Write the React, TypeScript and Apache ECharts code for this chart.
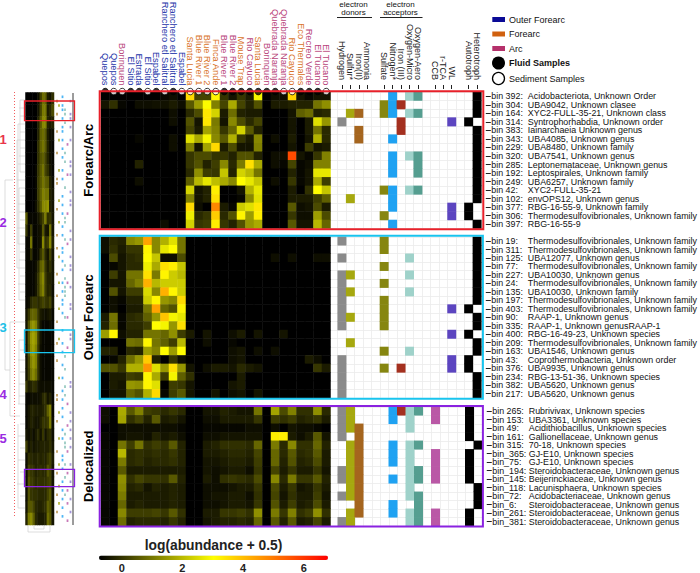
import React, { useEffect, useRef } from "react";
import * as echarts from "echarts";

const FONT = '"Liberation Sans", Arial, sans-serif';

const sampleNames = ["Quepos","Quepos","Borinquen","El Sitio","Estrada","El Sitio","Espabel","Ranchero etl Salitral","Ranchero etl Salitral","Espabel","Santa Lucia","Blue River 1","Blue River 2","Finca Ande","Blue River 1","Blue River 2","Mouse Trap","Rio Cayuco","Santa Lucia","Borinquen","Quebrada Naranja","Quebrada Naranja","Rio Cayuco","Eco Thermales","Recreo Verde","El Tucano","El Tucano"];
const BLUE = "#2233a8", ORANGE = "#d9742a", PINK = "#b8437a";
const sampleColors = [BLUE,BLUE,PINK,BLUE,BLUE,BLUE,BLUE,BLUE,BLUE,BLUE,ORANGE,ORANGE,ORANGE,ORANGE,PINK,PINK,ORANGE,PINK,ORANGE,PINK,PINK,PINK,ORANGE,ORANGE,PINK,PINK,PINK];
const sampleFluid = [1,0,0,1,1,0,1,0,1,0,0,0,0,0,1,1,1,1,1,1,1,0,0,1,1,1,0];

const heatForearc = [
[-.7,-.7,-.7,-.7,-.7,-.7,-.7,-.6,-.5,-.7,3.6,.3,.3,3.2,.05,-.4,.1,-.3,2.9,-.7,-.5,-.5,3.7,-.4,-.6,-.4,-.4],
[-.4,0,-.6,-.7,-.5,-.5,-.45,-.45,-.3,-.5,.6,1.6,3,1.2,.3,1.8,.3,-.2,.5,-.7,-.3,-.3,-.2,-.2,-.2,1,1.4],
[-.7,-.7,-.7,-.7,-.7,-.7,-.7,-.7,-.5,-.7,-.1,.4,3.4,2.4,-.3,.9,-.2,-.3,-.3,-.7,-.7,-.7,-.4,.7,.9,-.2,-.1],
[-.7,-.7,-.7,-.7,-.7,-.7,-.7,-.7,-.5,-.7,.5,-.4,3.4,1.1,-.4,1.3,.4,-.1,.3,-.7,-.7,-.7,-.4,-.7,-.3,2.6,1.5],
[-.7,-.7,-.7,-.7,-.7,-.7,-.7,-.7,-.7,-.7,.3,-.3,1.7,1.2,.1,.8,2.4,.6,-.2,-.7,-.7,-.7,-.4,-.7,-.3,1,-.1],
[-.7,-.7,-.7,-.7,-.6,-.7,-.7,-.7,-.5,-.7,2.6,1.8,2.9,1.3,.6,1.9,.1,-.3,1.3,-.7,-.5,-.7,-.3,-.7,-.4,1.9,-.1],
[-.7,-.7,-.7,-.7,-.7,-.7,-.7,-.7,-.5,-.7,1.2,-.4,1.7,3.6,-.3,.4,-.4,-.4,1.2,-.7,-.7,-.7,-.4,-.7,.2,-.4,-.3],
[-.7,-.7,-.7,-.7,-.7,-.7,-.7,-.7,-.7,-.7,.1,.4,.4,.05,.1,-.2,.5,.5,-.2,-.7,-.5,-.5,5.7,-.4,-.6,.1,1.2],
[-.7,-.7,-.7,-.7,-.2,-.7,-.7,-.7,-.7,-.7,.1,.5,-.2,.2,1.3,-.1,1.1,3.5,1.8,-.7,-.5,-.6,.3,-.6,-.5,1.2,1.2],
[-.7,-.7,-.7,-.7,-.7,-.7,-.7,-.7,-.7,-.7,-.1,1.4,.2,.1,2.2,-.2,2.4,2,1,-.7,-.7,-.7,-.2,-.6,-.4,2.7,2.7],
[-.7,-.7,-.7,-.7,-.5,-.7,-.7,-.7,-.7,-.7,.7,2,2.7,2.1,1.8,1.3,3.1,2.7,2.2,-.7,-.5,-.7,.1,-.6,-.4,1.8,.2],
[-.7,-.7,-.7,-.7,-.7,-.7,-.7,-.7,-.7,-.7,2.4,-.4,-.2,3.3,-.7,-.7,-.4,1.9,2.7,-.7,-.7,-.7,-.3,-.7,0,3.1,2.2],
[-.7,-.7,-.7,-.7,-.7,-.7,-.7,-.7,-.7,-.7,1.2,-.4,-.2,3.5,-.7,-.7,-.6,1.3,2.6,-.7,-.7,-.7,-.3,-.3,-.3,.2,.7],
[-.7,-.7,-.7,-.7,-.7,-.7,-.7,-.7,-.7,-.7,3.6,-.5,-.7,4.8,-.3,-.6,2.3,2.6,3.4,-.7,-.7,-.7,.6,-.5,-.4,.4,-.3],
[-.7,-.7,-.7,-.7,-.7,-.7,-.7,-.7,-.7,-.7,2.8,-.1,.1,3.8,-.1,.5,3.2,1.6,3.3,-.7,-.7,-.7,.1,-.5,-.5,1.6,.4],
[-.7,-.7,-.7,-.7,-.7,-.7,-.7,-.5,-.7,-.7,2.4,.1,.2,3.3,.1,-.2,.5,1.5,1.8,-.7,-.7,-.7,.6,-.4,-.4,2,.8],
];

const heatOuter = [
[-.5,-.1,-.2,1.3,1.5,4.4,1.3,1.9,2.6,1,-.7,-.7,-.7,-.7,-.7,-.7,-.7,-.7,-.7,-.7,-.7,-.7,-.7,-.7,-.7,-.7,-.7],
[-.5,0,-.3,.1,.1,3.2,1.3,2.7,3.1,1,-.7,-.7,-.7,-.7,-.7,-.7,-.7,-.7,-.7,-.7,-.7,-.7,-.7,-.7,-.7,-.7,-.7],
[-.7,.4,-.4,-.1,0,3.1,2.2,-.5,-.5,.4,-.7,-.7,-.7,-.7,-.7,-.7,-.7,-.7,-.7,-.7,-.5,-.7,-.5,-.7,-.7,-.5,-.5],
[-.7,-.6,-.4,-.1,-.1,2.8,1.8,3.5,3.3,2.2,-.7,-.7,-.7,-.7,-.7,-.7,-.7,-.7,-.7,-.7,-.7,-.7,-.7,-.7,-.7,-.7,-.7],
[-.7,.2,-.4,1,1,3.5,1.1,3.2,2.3,2,-.7,-.7,-.7,-.7,-.7,-.7,-.7,-.7,-.7,-.7,-.7,-.7,-.7,-.7,-.7,-.7,-.7],
[-.7,-.4,-.4,.8,1.2,4.2,2,2.3,2.3,2.3,-.7,-.7,-.7,-.7,-.7,-.7,-.7,-.7,-.7,-.7,-.7,-.7,-.7,-.7,-.7,-.7,-.7],
[-.7,.5,-.4,.2,.2,2.5,1.3,4.2,3.2,2.3,-.7,-.7,-.7,-.7,-.7,-.7,-.7,-.7,-.7,-.7,-.7,-.7,-.7,-.7,-.7,-.7,-.7],
[-.7,-.5,-.6,-.2,-.2,2.3,3.2,1.5,1.3,3.6,-.7,-.7,-.7,-.7,-.7,-.7,-.7,-.7,-.7,-.7,-.7,-.7,-.7,-.7,-.7,-.7,-.7],
[-.7,-.5,-.7,-.3,-.3,1,4.4,.8,.5,3.2,-.7,-.7,-.7,-.7,-.7,-.7,-.7,-.7,-.7,-.7,-.7,-.7,-.7,-.7,-.7,-.7,-.7],
[-.3,1,-.6,-.1,0,.7,1.5,3.9,2.9,2.7,-.7,-.7,-.7,-.7,-.7,-.7,-.7,-.7,-.7,-.7,-.7,-.7,-.7,-.7,-.7,-.7,-.7],
[-.2,.9,-.6,-.1,-.1,.2,3.1,2.9,1.5,3.5,-.7,-.7,-.7,-.7,-.7,-.7,-.7,-.7,-.7,-.7,-.7,-.7,-.7,-.7,-.7,-.7,-.7],
[1.6,3.2,-.5,-.2,-.2,1,1,.8,1.4,.2,-.3,-.7,-.4,-.7,-.7,-.5,-.3,-.7,-.4,-.7,-.7,-.4,-.7,-.7,-.7,-.7,-.7],
[-.7,-.7,-.7,1,.9,3.2,1,.7,.2,2,-.7,-.7,-.5,-.7,-.7,-.6,-.7,-.7,-.7,-.7,-.7,-.7,-.7,-.7,-.7,-.7,-.7],
[-.2,-.2,-.7,-.1,-.2,1.6,1.2,3.1,1.6,3.1,-.7,-.7,-.7,-.7,-.7,-.5,-.4,-.7,-.5,-.7,-.5,-.7,-.7,-.7,-.7,-.7,-.7],
[-.7,-.6,-.2,.9,1.5,3.8,-.2,-.7,.1,-.5,-.7,-.7,-.7,-.7,-.7,-.5,-.4,-.7,-.7,-.7,-.7,-.7,-.7,-.7,-.3,-.5,-.7],
[.5,.5,.1,1.9,1.9,4.6,2.6,1.5,3.5,1.5,-.4,-.7,-.5,-.3,-.3,-.4,-.1,-.3,-.4,-.7,-.7,-.7,-.7,-.7,-.7,.1,-.3],
[-.7,-.3,-.3,.2,.1,3.2,1.8,.2,2.9,.7,0,-.7,-.7,-.7,-.7,-.7,-.3,-.7,-.7,-.7,-.7,-.7,-.7,-.7,-.7,-.7,-.7],
[-.7,-.3,-.4,1.5,1.4,3.2,2.6,-.7,.2,.1,-.4,-.7,-.7,-.7,-.7,-.4,-.3,-.7,-.7,-.7,-.7,-.7,-.7,-.7,-.7,-.7,-.7],
[-.7,-.4,-.4,.8,.5,1.9,3.6,-.6,.2,.6,-.4,-.7,-.7,-.4,-.7,-.5,-.4,-.7,-.4,-.7,-.7,-.7,-.7,-.7,-.7,-.7,-.7],
];

const heatDelocalized = [
[-.5,-.7,1.8,.6,1.2,.2,.1,-.1,.1,-.1,-.7,-.7,-.4,-.4,-.2,-.3,-.4,-.4,1,-.7,1.7,.4,1.2,0,0,1.4,-.1],
[-.5,-.7,1.7,0,.3,-.2,.6,-.3,-.2,-.4,-.7,-.7,-.5,-.5,-.3,-.3,-.3,-.3,.1,-.7,.2,0,.2,-.2,-.1,.1,-.3],
[-.7,-.7,-.5,-.5,-.5,-.5,-.5,-.5,-.5,-.6,-.7,-.7,-.6,-.6,-.6,-.6,-.6,-.5,-.5,-.7,-.5,-.7,-.4,-.5,-.5,-.6,-.7],
[-.6,-.7,-.5,-.4,-.4,-.5,-.2,-.4,-.3,-.5,-.7,-.7,-.5,-.5,-.4,-.4,-.4,-.4,-.4,-.7,3.3,3.3,-.3,-.5,-.3,.6,-.4],
[-.6,-.7,1,.2,1,0,.2,0,.6,-.2,-.7,-.7,-.3,-.2,0,0,0,-.1,.8,-.7,1.1,-.1,1.3,0,0,.8,-.2],
[-.6,-.7,2,-.1,0,-.1,0,-.1,.1,-.2,-.7,-.7,-.3,-.3,-.2,-.1,-.1,-.2,.3,-.7,.8,-.1,.6,-.1,0,.6,-.3],
[-.6,-.7,1.1,-.1,0,-.2,-.1,-.1,0,-.2,-.7,-.7,-.4,-.4,-.3,-.2,-.2,-.3,.2,-.7,.8,-.2,.5,-.2,-.1,.4,-.3],
[-.6,-.7,.6,-.3,-.3,-.3,-.3,-.3,-.3,-.3,-.7,-.7,-.4,-.5,-.4,-.3,-.3,-.5,.1,-.7,.3,-.3,.1,-.3,-.3,.1,-.4],
[-.6,-.7,1.4,0,.3,.1,.1,0,.6,-.2,-.7,-.7,-.3,-.5,0,.1,0,-.1,.4,-.7,1.3,-.1,1.1,.1,.1,.6,-.2],
[-.6,-.7,1.3,-.2,-.1,-.4,-.2,-.3,-.2,-.3,-.7,-.7,-.5,-.5,-.5,-.4,-.3,-.3,.1,-.7,.4,-.3,.1,-.4,-.3,.1,-.3],
[-.6,-.7,1.1,-.3,-.3,-.3,-.3,-.3,-.2,-.3,-.7,-.7,-.5,-.4,-.4,-.3,-.3,-.5,0,-.7,.3,-.4,0,-.3,-.3,.2,-.4],
[-.6,-.7,.8,-.3,-.2,-.3,-.3,-.3,-.2,-.3,-.7,-.7,-.5,-.5,-.4,-.3,-.3,-.4,.1,-.7,.5,-.3,.2,-.3,-.2,.4,-.3],
[-.6,-.7,1.3,.2,.2,.2,.3,.1,.6,0,-.7,-.7,-.3,-.3,.1,.1,.2,0,1.4,-.7,1.1,.1,1.2,0,.2,1.4,0],
[-.6,-.7,.9,-.2,-.1,-.1,-.1,-.2,.1,-.2,-.7,-.7,-.4,-.3,-.2,-.2,-.1,-.2,.8,-.7,.6,-.2,.6,-.3,-.2,.3,-.3],
];

const binsForearc = ["bin 392:|Acidobacteriota, Unknown Order","bin 304:|UBA9042, Unknown clasee","bin 164:|XYC2-FULL-35-21, Unknown class","bin 314:|Syntrophorhabdia, Unknown order","bin 383:|Iainarchaeia Unknown genus","bin 343:|UBA4085, Unknown genus","bin 229:|UBA8480, Unknown family","bin 320:|UBA7541, Unknown genus","bin 285:|Leptonemataceae, Unknown genus","bin 192:|Leptospirales, Unknown family","bin 249:|UBA6257, Unknown family","bin 42:|XYC2-FULL-35-21","bin 102:|envOPS12, Unknown genus","bin 377:|RBG-16-55-9, Unknown family","bin 306:|Thermodesulfovibrionales, Unknown family","bin 397:|RBG-16-55-9"];
const binsOuter = ["bin 19:|Thermodesulfovibrionales, Unknown family","bin 311:|Thermodesulfovibrionales, Unknown family","bin 125:|UBA12077, Unknown genus","bin 77:|Thermodesulfovibrionales, Unknown family","bin 227:|UBA10030, Unknown genus","bin 24:|Thermodesulfovibrionales, Unknown family","bin 135:|UBA10030, Unknown family","bin 197:|Thermodesulfovibrionales, Unknown family","bin 403:|Thermodesulfovibrionales, Unknown family","bin 90:|RAAP-1, Unknown genus","bin 335:|RAAP-1, Unknown genusRAAP-1","bin 400:|RBG-16-49-23, Unknown species","bin 209:|Thermodesulfovibrionales, Unknown family","bin 163:|UBA1546, Unknown genus","bin 43:|Coprothermobacteria, Unknown order","bin 376:|UBA9935, Unknown genus","bin 234:|RBG-13-51-36, Unknown species","bin 382:|UBA5620, Unknown genus","bin 217:|UBA5620, Unknown genus"];
const binsDelocalized = ["bin 265:|Rubrivivax, Unknown species","bin 153:|UBA3361, Unknown species","bin 49:|Acidithiobacillus, Unknown species","bin 161:|Gallionellaceae, Unknown genus","bin 315:|70-18, Unknown species","bin_365:|GJ-E10, Unknown species","bin_75:|GJ-E10, Unknown species","bin_194:|Steroidobacteraceae, Unknown genus","bin_145:|Beijerinckiaceae, Unknown genus","bin_118:|Lacunisphaera, Unknown species","bin_72:|Acidobacteriaceae, Unknown genus","bin_6:|Steroidobacteraceae, Unknown genus","bin_261:|Steroidobacteraceae, Unknown genus","bin_381:|Steroidobacteraceae, Unknown genus"];

const traitCols = ["","Hydrogen","Sulfur*","Iron(II)","Ammonia","","Sulfate","Nitrogen*","Iron (III)","Oxygen-Micro","Oxygen-Aero","","CCB","r-TCA","WL","","Autotroph","Heterotroph"];
const traitColors = ["#fff","#8a8a8a","#a6a80f","#a5651e","#888","#fff","#868610","#1fa2f2","#a4301f","#9fd2ca","#559e90","#fff","#ba58a6","#888","#5c45c0","#fff","#000","#000"];

const H="Hydrogen",S="Sulfur*",F2="Iron(II)",SO="Sulfate",N="Nitrogen*",F3="Iron (III)",OM="Oxygen-Micro",OA="Oxygen-Aero",CCB="CCB",WL="WL",AU="Autotroph",HE="Heterotroph";
const traitsForearc = [
[N,OM,OA,HE],[SO,N,F3,HE],[S,F2,SO,N,OM,OA,HE],[H,F3,WL,AU],[F2,F3,HE],[F2,N,HE],[HE],[N,OM,OA,HE],[N,OA,HE],[N,OA,HE],[HE],[SO,N,OM,OA,HE],[S,N,HE],[N,WL,AU],[SO,WL,AU],[N,HE],
];
const traitsOuter = [
[H,SO,HE],[SO,HE],[H,OM,HE],[SO,HE],[H,S,OM,HE],[H,SO,HE],[H,S,OM,HE],[H,SO,HE],[H,SO,WL,AU],[H,S,SO,HE],[H,SO,HE],[WL,AU],[S,HE],[SO,OM,HE],[H,WL,AU],[H,SO,F3,WL,AU],[H,HE],[H,HE],[H,HE],
];
const traitsDelocalized = [
[H,S,N,F3,OM,OA,CCB,AU],[H,S,N,OM,CCB,AU],[H,S,F2,OM,AU],[H,F2,AU],[S,F2,N,OM,OA,HE],[S,F2,N,OM,CCB,AU],[S,F2,N,OM,CCB,AU],[H,S,F2,OM,OA,CCB,AU],[H,S,F2,N,OM,OA,CCB,AU],[S,F2,OM,HE],[H,S,F2,OM,OA,HE],[F2,N,OA,HE],[S,F2,N,OM,OA,CCB,AU],[H,S,OM,OA,CCB,AU],
];

// coarse reading of the small overview heatmap on the left
const overview = [
[-.7,-.7,-.7,-.7,-.7,-.5,.2,.9,.7,-.3,-.4,.0],
[-.7,-.7,-.7,-.7,-.7,-.4,.3,1.1,1,-.3,-.1,.4],
[-.7,-.7,-.7,-.7,-.7,-.2,.6,1.3,1.2,-.2,-.3,-.2],
[-.7,-.7,-.7,-.7,-.7,-.2,.7,.9,.6,-.3,-.5,-.5],
[-.7,-.7,-.7,-.7,-.7,0,.7,1,.6,-.2,-.5,-.6],
[-.7,-.7,-.7,-.7,-.7,0,.5,.7,.3,-.2,-.5,-.6],
[-.7,-.7,-.7,-.7,-.6,.1,.6,1,.3,0,-.4,-.6],
[-.7,-.7,-.7,-.7,-.6,.2,.6,1,.7,.6,-.2,-.5],
[-.7,-.7,-.7,-.7,-.6,.2,.7,1.2,1,1,-.2,-.4],
[-.7,-.7,-.7,-.7,-.5,0,.6,1.3,1.3,1.5,-.2,-.4],
[.6,-.6,-.6,-.6,-.6,-.4,-.1,.3,1.1,0,.1,-.4],
[.1,-.6,.2,-.6,-.6,-.5,-.4,.6,-.3,-.4,1,-.4],
[-.6,-.6,1,-.6,-.6,-.5,-.4,1.3,0,.2,1.3,-.2],
[-.6,-.6,0,-.6,-.6,-.5,.1,.6,-.1,-.4,.3,-.4],
[-.6,-.6,-.6,-.6,-.5,-.1,.7,.9,.1,-.3,0,-.4],
[-.6,-.6,-.6,-.6,-.4,.1,.9,1.3,.2,-.2,-.2,-.4],
[-.6,-.6,-.6,-.6,-.4,.1,.8,1.2,.2,-.2,-.1,-.5],
[-.6,-.5,-.1,.1,.1,-.1,.1,.3,.1,0,.3,-.4],
[-.4,.1,.7,.8,.7,.1,-.3,-.4,-.5,-.4,-.3,-.6],
[-.4,.5,1.3,1.5,1.2,.2,-.4,-.6,-.6,-.6,-.5,-.6],
[-.4,.6,1.5,1.7,1.4,.2,-.4,-.6,-.6,-.6,-.6,-.6],
[-.4,.5,1.4,1.6,1.2,.1,-.5,-.6,-.6,-.6,-.6,-.6],
[-.4,.3,1.2,1.5,1.2,0,-.5,-.6,-.6,-.6,-.6,-.6],
[-.4,.2,1,1.3,.9,0,-.5,-.6,-.6,-.6,-.6,-.6],
[.1,-.3,-.2,0,-.1,-.4,-.5,-.5,-.5,-.5,-.5,-.6],
[-.6,-.6,-.5,-.5,-.5,-.5,-.4,-.1,0,-.4,-.2,-.6],
[-.6,-.4,-.2,-.2,-.3,-.3,-.3,-.2,0,.7,1.2,-.6],
[-.6,-.4,-.2,-.3,-.4,-.4,-.2,.1,0,.2,1.1,-.5],
[-.4,-.5,-.3,-.5,-.3,-.1,-.4,.1,-.4,-.1,0,-.5],
[.2,-.4,-.2,-.4,-.3,-.3,-.2,-.2,-.2,-.2,0,-.4],
[-.5,0,-.1,-.2,-.2,-.1,-.2,-.1,-.2,.1,.3,-.3],
[-.5,.3,.1,0,-.2,-.1,0,-.1,-.1,.5,.3,-.4],
[-.5,.5,.2,.1,-.1,0,0,0,0,.2,.3,-.4],
[-.5,.5,.1,0,0,-.1,-.1,-.1,-.1,.3,.6,-.4],
[-.4,.6,.6,.3,-.1,-.2,-.2,-.1,0,.7,.5,-.4],
[-.2,1.1,1.3,.7,-.1,-.3,-.3,-.3,-.2,.9,.6,-.4],
];

// overview trait marks, [position from 0 to 100 down the strip] per column
const miniBrown = [2,5,9,14,20,21,27,33,36,42,47,53,58,62,70,71,76,83,88,93,97];
const miniOlive = [3,11,18,25,30,38,44,50,57,66,74,80,86,91,95];
const miniBlue = [1,3,4,6,8,9,11,13,15,18,20,24,26,28,31,33,36,37,39,41,44,46,48,49,51,55,58,60,63,66,69,71,73,75,78,80,84,85,87,90,92,94,96,98];
const miniTeal = [4,5,7,14,16,22,29,30,34,40,43,45,46,47,52,61,64,68,70,79,81,82,86,89,93];
const miniPink = [12,19,28,35,44,52,59,72,77,83,88,92,95,99];
const miniPurple = [2,5,6,8,11,16,17,19,23,25,26,32,34,38,40,41,45,49,50,56,57,67,68,74,76,78,80,82,86,90,94,97];

// dendrogram segments at left, [x1, y1, x2, y2]
const dendro = [
[5,180,13,180],[5,180,5,370],[5,370,10,370],[10,322,10,416],[10,322,25,322],[10,416,20,416],
[20,100,25,100],[19,108,25,108],[20,116,25,116],[18,124,25,124],[20,132,25,132],[17,140,25,140],[20,148,25,148],[19,156,25,156],[18,164,25,164],[20,172,25,172],[17,180,25,180],[19,188,25,188],[20,196,25,196],[18,204,25,204],[19,212,25,212],[20,220,25,220],[17,228,25,228],[20,236,25,236],[18,244,25,244],[20,252,25,252],[19,260,25,260],[17,268,25,268],[20,276,25,276],[18,284,25,284],[20,292,25,292],[19,300,25,300],[19,340,25,340],[20,350,25,350],[18,360,25,360],[20,372,25,372],[19,384,25,384],[19,396,25,396],[18,404,25,404],[20,424,25,424],[18,436,25,436],[20,448,25,448],[18,460,25,460],[20,472,25,472],[17,484,25,484],[20,496,25,496],[18,508,25,508],
[20,100,20,172],[18,124,18,244],[17,140,17,268],[19,188,19,300],[19,340,19,404],[18,424,18,508],
[28,526,28,532],[28,532,50,532],[50,526,50,532],[34,526,34,529],[34,529,44,529],[44,526,44,529],
];

const HEAT_LEFT = 101, CELL = 8.5, HEAT_W = 27 * CELL, TRAIT_LEFT = 329.25, TRAIT_W = 18 * CELL;
const panels = [
  { title: "Forearc/Arc", top: 92, height: 136.5, heat: heatForearc, bins: binsForearc, traits: traitsForearc },
  { title: "Outer Forearc", top: 236.8, height: 161, heat: heatOuter, bins: binsOuter, traits: traitsOuter },
  { title: "Delocalized", top: 406.8, height: 119, heat: heatDelocalized, bins: binsDelocalized, traits: traitsDelocalized },
];

const frame = (x: number, y: number, w: number, h: number, color: string, lw: number) => ({
  type: "rect", z: 100, silent: true, shape: { x, y, width: w, height: h }, style: { fill: "transparent", stroke: color, lineWidth: lw },
});
const label = (text: string, x: number, y: number, o: any = {}) => ({
  type: "text", z: 100, silent: true, x, y,
  style: { text, fontFamily: FONT, fontSize: 9, fill: "#111", textVerticalAlign: "middle", verticalAlign: "middle", align: "left", ...o },
});

function buildOption() {
  const grid: any[] = [], xAxis: any[] = [], yAxis: any[] = [], series: any[] = [];
  const add = (g: any, x: any, y: any) => {
    grid.push(g);
    const i = grid.length - 1;
    xAxis.push({ gridIndex: i, ...x });
    yAxis.push({ gridIndex: i, ...y });
    return i;
  };
  const hidden = { show: false };

  // sample circles row with sample names
  const c = add({ left: HEAT_LEFT, width: HEAT_W, top: 82, height: 8.5 }, {
    type: "category", data: sampleNames, position: "top",
    axisLine: hidden, axisTick: hidden,
    axisLabel: { interval: 0, rotate: 90, margin: 5, fontFamily: FONT, fontSize: 9.3, color: (_: any, i: number) => sampleColors[i], hideOverlap: false },
  }, { type: "category", data: ["s"], show: false });
  series.push({
    type: "scatter", xAxisIndex: c, yAxisIndex: c, symbolSize: 6.5, silent: true,
    data: sampleFluid.map((f, i) => ({ value: [i, 0], itemStyle: { color: f ? "#000" : "#fff", borderColor: "#000", borderWidth: 1 } })),
  });

  const heatIdx: number[] = [];
  panels.forEach((p) => {
    const h = add({ left: HEAT_LEFT, width: HEAT_W, top: p.top, height: p.height },
      { type: "category", data: sampleNames, show: false },
      { type: "category", inverse: true, data: p.bins, axisLine: hidden, axisTick: hidden, axisLabel: hidden,
        name: p.title, nameLocation: "middle", nameRotate: 90, nameGap: 6.5,
        nameTextStyle: { fontFamily: FONT, fontWeight: "bold", fontSize: 13, color: "#000" } });
    heatIdx.push(series.length);
    series.push({ type: "heatmap", xAxisIndex: h, yAxisIndex: h, silent: true,
      data: p.heat.flatMap((r, y) => r.map((v, x) => [x, y, v])) });
  });

  const traitIdx: number[] = [];
  panels.forEach((p, pi) => {
    const t = add({ left: TRAIT_LEFT, width: TRAIT_W, top: p.top, height: p.height },
      { type: "category", data: traitCols, position: "top", offset: pi === 0 ? 3 : 0,
        axisLine: hidden,
        axisTick: pi === 0 ? { show: true, alignWithLabel: true, length: 4, interval: (_: number, v: string) => v !== "", lineStyle: { color: "#222", width: 1 } } : hidden,
        axisLabel: pi === 0 ? { interval: 0, rotate: 90, margin: 9, fontFamily: FONT, fontSize: 9, color: "#222" } : hidden,
        splitLine: { show: true, interval: 0, lineStyle: { color: "#ebebeb", width: 0.8 } } },
      { type: "category", inverse: true, position: "right", data: p.bins, offset: 4.5,
        axisLine: hidden,
        axisTick: { show: true, alignWithLabel: true, length: 5, lineStyle: { color: "#222", width: 1 } },
        axisLabel: { interval: 0, margin: 5.5, fontFamily: FONT, fontSize: 8.9, lineHeight: 8, color: "#111",
          formatter: (v: string) => { const [a, b] = v.split("|"); return `{a|${a}}{b|${b}}`; },
          rich: { a: { width: 36.5, height: 8, lineHeight: 8, fontFamily: FONT, fontSize: 8.9, color: "#111", align: "left" }, b: { height: 8, lineHeight: 8, fontFamily: FONT, fontSize: 8.9, color: "#111" } } },
        splitLine: { show: true, interval: 0, lineStyle: { color: "#ebebeb", width: 0.8 } } });
    traitIdx.push(series.length);
    series.push({ type: "heatmap", xAxisIndex: t, yAxisIndex: t, silent: true,
      data: p.traits.flatMap((r, y) => r.map((n) => { const x = traitCols.indexOf(n); return [x, y, x]; })) });
  });

  // colour-bar tick axis
  add({ left: 99, width: 229, top: 555.5, height: 4.5 }, {
    type: "value", min: -0.75, max: 6.8, axisLine: hidden, axisTick: hidden, splitLine: hidden,
    axisLabel: { customValues: [0, 2, 4, 6], margin: 3, fontFamily: FONT, fontWeight: "bold", fontSize: 11, color: "#222" },
  }, { type: "value", show: false, splitLine: hidden });

  // overview heatmap
  const o = add({ left: 25.5, width: 28.5, top: 92.5, height: 432.5 },
    { type: "category", show: false, data: overview[0].map((_, i) => i) },
    { type: "category", show: false, inverse: true, data: overview.map((_, i) => i) });
  heatIdx.push(series.length);
  series.push({ type: "heatmap", xAxisIndex: o, yAxisIndex: o, silent: true,
    data: overview.flatMap((r, y) => r.map((v, x) => [x, y, v])) });

  // overview trait marks
  const m = add({ left: 55, width: 18, top: 92.5, height: 432.5 },
    { type: "value", min: 0, max: 18, show: false, splitLine: hidden },
    { type: "value", min: 0, max: 100, inverse: true, show: false, splitLine: hidden });
  ([[miniBrown, 2, "#b58a3a"], [miniOlive, 4, "#a6a80f"], [miniBlue, 7.5, "#1fa2f2"], [miniTeal, 10, "#7fbdb2"], [miniPink, 12.5, "#ba58a6"], [miniPurple, 15.5, "#8d7bd0"]] as any[])
    .forEach(([ys, x, color]) => series.push({ type: "scatter", xAxisIndex: m, yAxisIndex: m, silent: true,
      symbol: "rect", symbolSize: [1.8, 2.6], itemStyle: { color }, data: ys.map((y: number) => [x, y]) }));

  // dendrogram
  const d = add({ left: 0, width: 60, top: 0, height: 573 },
    { type: "value", min: 0, max: 60, show: false, splitLine: hidden },
    { type: "value", min: 0, max: 573, inverse: true, show: false, splitLine: hidden });
  series.push({ type: "line", xAxisIndex: d, yAxisIndex: d, silent: true, symbol: "none", connectNulls: false,
    lineStyle: { color: "#cfcfcf", width: 0.7 },
    data: dendro.flatMap(([a, b, e, f]) => [[a, b], [e, f], ["-", "-"]]) });

  return {
    animation: false,
    backgroundColor: "#fff",
    grid, xAxis, yAxis, series,
    visualMap: [
      { type: "continuous", seriesIndex: heatIdx, min: -0.7, max: 6.8, calculable: false, hoverLink: false, realtime: false,
        orient: "horizontal", left: 99, top: 555.5, itemWidth: 4.5, itemHeight: 229, padding: 0, text: undefined,
        inRange: { color: ["#000000", "#ffff00", "#ff0000"] } },
      { type: "piecewise", show: false, seriesIndex: traitIdx,
        pieces: traitColors.map((color, value) => ({ value, color })) },
    ],
    graphic: { elements: [
      frame(99.7, 91.3, 383.6, 138, "#e8202a", 2),
      frame(99.7, 235.8, 383.2, 163, "#18c4ee", 2),
      frame(99.7, 406, 383.2, 120.5, "#8a22e0", 2),
      frame(24.5, 101, 50, 19.7, "#e8202a", 1.3),
      frame(24.5, 330, 50, 22.7, "#18c4ee", 1.3),
      frame(24.5, 469.3, 50, 17.4, "#8a22e0", 1.3),
      { type: "line", z: 20, silent: true, shape: { x1: 14.5, y1: 92, x2: 14.5, y2: 516 }, style: { stroke: "#f04a4a", lineWidth: 0.9, lineDash: [1, 2] } },
      { type: "line", z: 20, silent: true, shape: { x1: 73, y1: 93, x2: 73, y2: 525 }, style: { stroke: "#222", lineWidth: 0.9 } },
      label("1", 3, 139, { fontWeight: "bold", fontSize: 13, fill: "#e8354a", align: "center" }),
      label("2", 3, 222, { fontWeight: "bold", fontSize: 13, fill: "#9a2be2", align: "center" }),
      label("3", 3, 327, { fontWeight: "bold", fontSize: 13, fill: "#20c0e8", align: "center" }),
      label("4", 3, 394, { fontWeight: "bold", fontSize: 13, fill: "#9a2be2", align: "center" }),
      label("5", 3, 438, { fontWeight: "bold", fontSize: 13, fill: "#9a2be2", align: "center" }),
      label("log(abundance + 0.5)", 213.5, 545, { fontWeight: "bold", fontSize: 13.8, align: "center", fill: "#222" }),
      label("electron", 353.5, 4, { fontSize: 8, align: "center" }),
      label("donors", 353.5, 12, { fontSize: 8, align: "center" }),
      label("electron", 400.5, 4, { fontSize: 8, align: "center" }),
      label("acceptors", 400.5, 12, { fontSize: 8, align: "center" }),
      { type: "line", z: 20, silent: true, shape: { x1: 337, y1: 17.5, x2: 372, y2: 17.5 }, style: { stroke: "#222", lineWidth: 1 } },
      { type: "line", z: 20, silent: true, shape: { x1: 380, y1: 17.5, x2: 422.5, y2: 17.5 }, style: { stroke: "#222", lineWidth: 1 } },
      { type: "rect", z: 20, silent: true, shape: { x: 492.3, y: 17, width: 12.7, height: 5 }, style: { fill: "#0a0a96" } },
      { type: "rect", z: 20, silent: true, shape: { x: 492.3, y: 31.5, width: 12.7, height: 5 }, style: { fill: "#d0600f" } },
      { type: "rect", z: 20, silent: true, shape: { x: 492.3, y: 46, width: 12.7, height: 5 }, style: { fill: "#b5316b" } },
      { type: "circle", z: 20, silent: true, shape: { cx: 498.5, cy: 63, r: 6.5 }, style: { fill: "#000" } },
      { type: "circle", z: 20, silent: true, shape: { cx: 498.5, cy: 78.5, r: 6 }, style: { fill: "#fff", stroke: "#000", lineWidth: 1.3 } },
      label("Outer Forearc", 509, 19.5),
      label("Forearc", 509, 34),
      label("Arc", 509, 48.5),
      label("Fluid Samples", 509, 63, { fontWeight: "bold" }),
      label("Sediment Samples", 509, 79),
    ] },
  };
}

export default function App() {
  const ref = useRef<HTMLDivElement>(null);
  useEffect(() => {
    const chart = echarts.init(ref.current!, undefined, { renderer: "svg" });
    chart.setOption(buildOption() as any);
    return () => chart.dispose();
  }, []);
  return <div ref={ref} style={{ position: "absolute", left: 0, top: 0, width: 700, height: 573 }} />;
}
